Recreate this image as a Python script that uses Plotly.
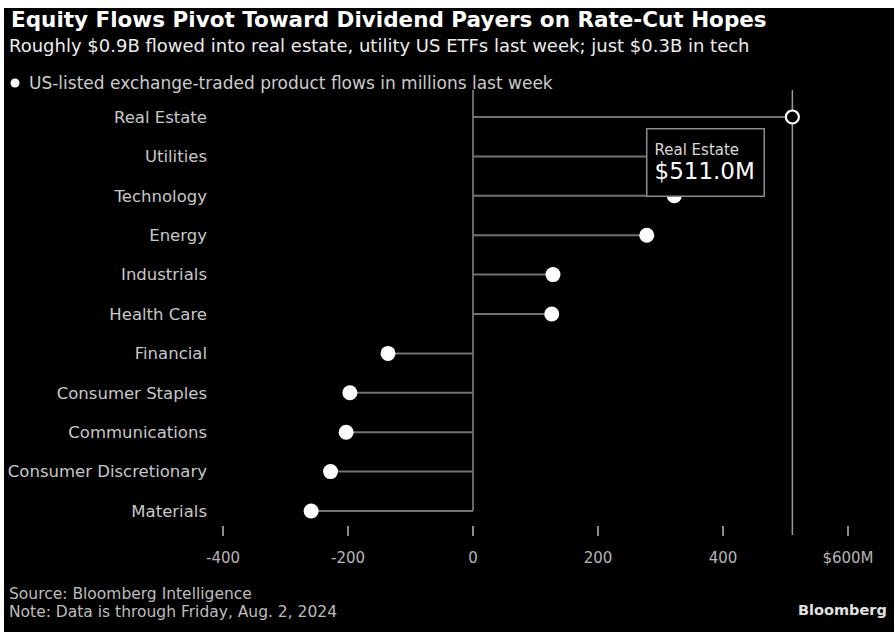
import plotly.graph_objects as go

categories = ["Real Estate", "Utilities", "Technology", "Energy", "Industrials", "Health Care",
              "Financial", "Consumer Staples", "Communications", "Consumer Discretionary", "Materials"]
flows = [511.0, 385.0, 322.0, 278.0, 128.0, 126.0, -136.0, -197.0, -203.0, -228.0, -259.0]
tick_vals = [-400, -200, 0, 200, 400, 600]
tick_text = ["-400", "-200", "0", "200", "400", "$600M"]

FONT = "DejaVu Sans, Verdana, sans-serif"

# page geometry (reference-pixel coordinates); the page has an 8px top / 4px left white body margin
OFF_X, OFF_Y = 4, 8
W, H = 894 - OFF_X, 632 - OFF_Y
PL, PR, PT, PB = 215, 870, 90, 525   # plot area edges in page pixels
PW, PH = PR - PL, PB - PT


def px(x):
    return (x - PL) / PW


def py(y):
    return (PB - y) / PH


fig = go.Figure()

# stems
sx, sy = [], []
for c, v in zip(categories, flows):
    sx += [0, v, None]
    sy += [c, c, None]
fig.add_trace(go.Scatter(x=sx, y=sy, mode="lines", line=dict(color="#727272", width=2),
                         hoverinfo="skip", showlegend=False))

# dots
fig.add_trace(go.Scatter(x=flows[1:], y=categories[1:], mode="markers",
                         marker=dict(color="white", size=15, line=dict(width=0)),
                         showlegend=False))
# highlighted (hover-state) dot
fig.add_trace(go.Scatter(x=flows[:1], y=categories[:1], mode="markers",
                         marker=dict(color="black", size=13, line=dict(color="white", width=2.2)),
                         showlegend=False))

n = len(categories)
y_top, y_bot = -0.685, n - 1 + 0.355

# zero line
fig.add_shape(type="line", xref="x", yref="y", x0=0, x1=0, y0=y_top, y1=n - 1,
              line=dict(color="#8a8a8a", width=1.5), layer="below")
# spike line at highlighted value
fig.add_shape(type="line", xref="x", yref="paper", x0=flows[0], x1=flows[0], y0=1, y1=py(535),
              line=dict(color="#9a9a9a", width=1.5), layer="below")

# tooltip
fig.add_annotation(x=px(646), y=py(128), xref="paper", yref="paper", xanchor="left", yanchor="top",
                   text=f"<span style='font-size:15px;color:#d8d8d8'>{categories[0]}</span><br>"
                        f"<span style='font-size:23px;color:white'>${flows[0]:.1f}M</span>",
                   align="left", valign="middle", width=102, height=52,
                   showarrow=False, bgcolor="black", bordercolor="#8c8c8c",
                   borderwidth=1.5, borderpad=7, font=dict(family=FONT, size=19, color="white"))

# legend marker
fig.add_shape(type="circle", xref="paper", yref="paper", xsizemode="pixel", ysizemode="pixel",
              xanchor=px(15), yanchor=py(83), x0=-4.5, x1=4.5, y0=-4.5, y1=4.5,
              fillcolor="white", line=dict(width=0))

texts = [
    dict(text="<b>Equity Flows Pivot Toward Dividend Payers on Rate-Cut Hopes</b>", x=9, y=20, size=21.5, color="white"),
    dict(text="Roughly $0.9B flowed into real estate, utility US ETFs last week; just $0.3B in tech", x=7, y=46, size=18, color="#ececec"),
    dict(text="US-listed exchange-traded product flows in millions last week", x=27, y=83, size=17, color="#cccccc"),
    dict(text="Source: Bloomberg Intelligence", x=7, y=594, size=15.5, color="#bdbdbd"),
    dict(text="Note: Data is through Friday, Aug. 2, 2024", x=7, y=612, size=15.5, color="#bdbdbd"),
]
for a in texts:
    fig.add_annotation(x=px(a["x"]), y=py(a["y"]), xref="paper", yref="paper",
                       xanchor="left", yanchor="middle", showarrow=False, text=a["text"],
                       font=dict(family=FONT, size=a["size"], color=a["color"]))
fig.add_annotation(x=px(889), y=py(610), xref="paper", yref="paper", xanchor="right",
                   yanchor="middle", showarrow=False, text="<b>Bloomberg</b>",
                   font=dict(family=FONT, size=14.5, color="#e0e0e0"))

fig.update_layout(
    width=W, height=H,
    paper_bgcolor="black", plot_bgcolor="black",
    margin=dict(l=PL - OFF_X, r=894 - PR, t=PT - OFF_Y, b=632 - PB, pad=0, autoexpand=False),
    font=dict(family=FONT, color="#cccccc"),
    showlegend=False,
    hovermode=False,
)
fig.update_xaxes(range=[-(473 - PL) / 0.625, (PR - 473) / 0.625], tickvals=tick_vals, ticktext=tick_text,
                 showgrid=False, zeroline=False, showline=False, ticks="outside", ticklen=10,
                 tickwidth=1.5, tickcolor="#8a8a8a",
                 tickfont=dict(size=15, color="#b5b5b5", family=FONT), ticklabelstandoff=9)
fig.update_yaxes(type="category", categoryorder="array", categoryarray=categories,
                 range=[y_bot, y_top], showgrid=False, zeroline=False, showline=False,
                 ticks="", tickfont=dict(size=16.5, color="#c8c8c8", family=FONT),
                 ticklabelstandoff=7)

fig.write_html("out.html", config={"displayModeBar": False},
               post_script="document.body.style.margin='8px 0 0 4px';document.body.style.overflow='hidden';")
